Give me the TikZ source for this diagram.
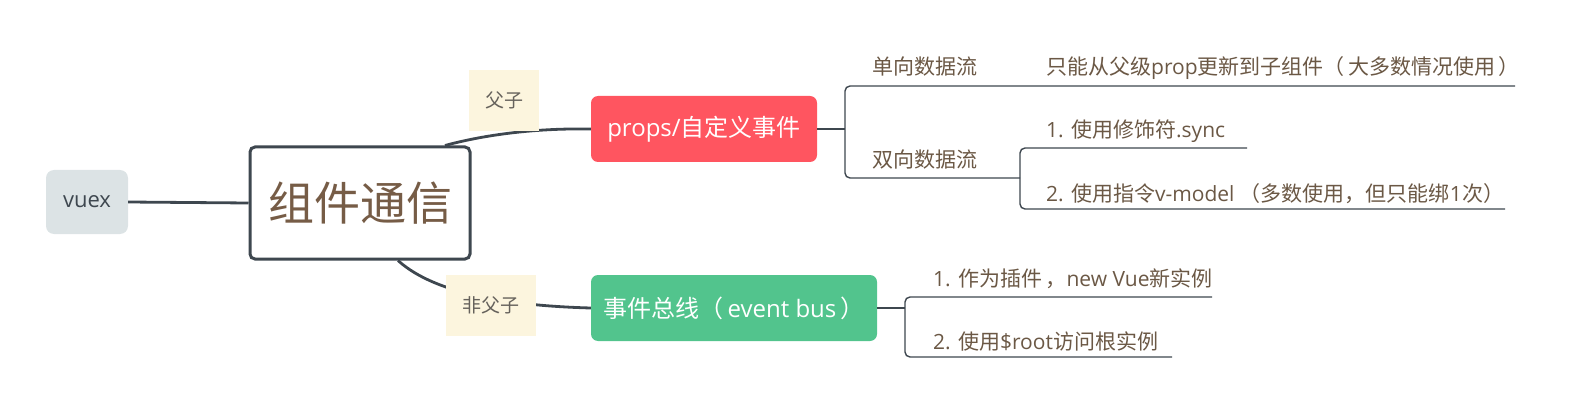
\documentclass[tikz,border=0pt]{standalone}
\usepackage{fontspec}
\setmainfont{Open Sans}
\newfontfamily\cjk{Noto Sans CJK SC}
\definecolor{lin}{HTML}{3E474F}
\definecolor{vuexfill}{HTML}{DCE3E5}
\definecolor{maintext}{HTML}{765C46}
\definecolor{labfill}{HTML}{FCF5DE}
\definecolor{labtext}{HTML}{66625C}
\definecolor{propsfill}{HTML}{FF5560}
\definecolor{eventfill}{HTML}{52C48D}
\definecolor{itemtext}{HTML}{6B5845}
\begin{document}
\begin{tikzpicture}[x=1pt,y=-1pt,
  conn/.style={draw=lin,line width=2.8pt},
  subconn/.style={draw=lin,line width=2pt},
  brk/.style={draw=lin,line width=1.4pt,rounded corners=5pt},
  topicbox/.style={rounded corners=7pt,inner sep=0pt,text=white,font=\fontsize{24}{28}\selectfont},
  labbox/.style={fill=labfill,inner sep=0pt,minimum height=61pt,text=labtext,font=\cjk\fontsize{19}{23}\selectfont},
  itemnode/.style={inner sep=0pt,anchor=base west,text=itemtext,font=\fontsize{21}{25}\selectfont}
]
\useasboundingbox (0,0) rectangle (1584,406);
% nodes
\node[fill=vuexfill,rounded corners=8pt,minimum width=82pt,minimum height=64pt,inner sep=0pt,
  text=lin,font=\fontsize{22}{26}\selectfont] (vuex) at (87,202) {vuex};
\node[draw=lin,line width=3pt,fill=white,rounded corners=5pt,minimum width=220pt,minimum height=112pt,
  inner sep=0pt,text=maintext,font=\cjk\fontsize{46}{52}\selectfont] (center) at (360,203) {组件通信};
\node[topicbox,fill=propsfill,minimum width=226pt,minimum height=66pt] (props) at (704,129)
  {props/{\cjk 自定义事件}};
\node[topicbox,fill=eventfill,minimum width=286pt,minimum height=66pt] (event) at (734,308)
  {{\cjk 事件总线（}\,event bus\,{\cjk ）}};
% connectors
\draw[conn] (vuex.east) -- (center.west);
\draw[conn] ([xshift=85pt]center.north) .. controls (480,136) and (530,128) .. (props.west);
\draw[conn] ([xshift=38pt]center.south) .. controls (425,285) and (480,305) .. (event.west);
% labels on connectors
\node[labbox,minimum width=70pt] (lab1) at (504,100.5) {父子};
\node[labbox,minimum width=90pt] (lab2) at (491,305.5) {非父子};
% props bracket
\coordinate (pb) at (845,129);
\coordinate (pt) at (1515,86);
\coordinate (pm) at (1020,178);
\coordinate (st) at (1247,148);
\coordinate (sb) at (1505,209);
\draw[subconn] (props.east) -- (pb);
\draw[brk] (pt) -- (845,86) -- (845,178) -- (pm);
\draw[brk] (st) -- (1020,148) -- (1020,209) -- (sb);
% event bracket
\coordinate (eb) at (905,308);
\coordinate (et) at (1212,297);
\coordinate (ebt) at (1172,357);
\draw[subconn] (event.east) -- (eb);
\draw[brk] (et) -- (905,297) -- (905,357) -- (ebt);
% item texts
\node[itemnode] (a1) at (872,75) {\cjk 单向数据流};
\node[itemnode] (a2) at (872,168) {\cjk 双向数据流};
\node[itemnode] (a11) at (1046,75) {{\cjk 只能从父级}prop{\cjk 更新到子组件（}\,{\cjk 大多数情况使用}\,{\cjk ）}};
\node[itemnode] (a21) at (1046,138) {1. {\cjk 使用修饰符}.sync};
\node[itemnode] (a22) at (1046,201) {2. {\cjk 使用指令}v-model {\cjk （多数使用，但只能绑}1{\cjk 次）}};
\node[itemnode] (b1) at (933,286) {1. {\cjk 作为插件}\,{\cjk ，}new Vue{\cjk 新实例}};
\node[itemnode] (b2) at (933,349) {2. {\cjk 使用}\$root{\cjk 访问根实例}};
\end{tikzpicture}
\end{document}
